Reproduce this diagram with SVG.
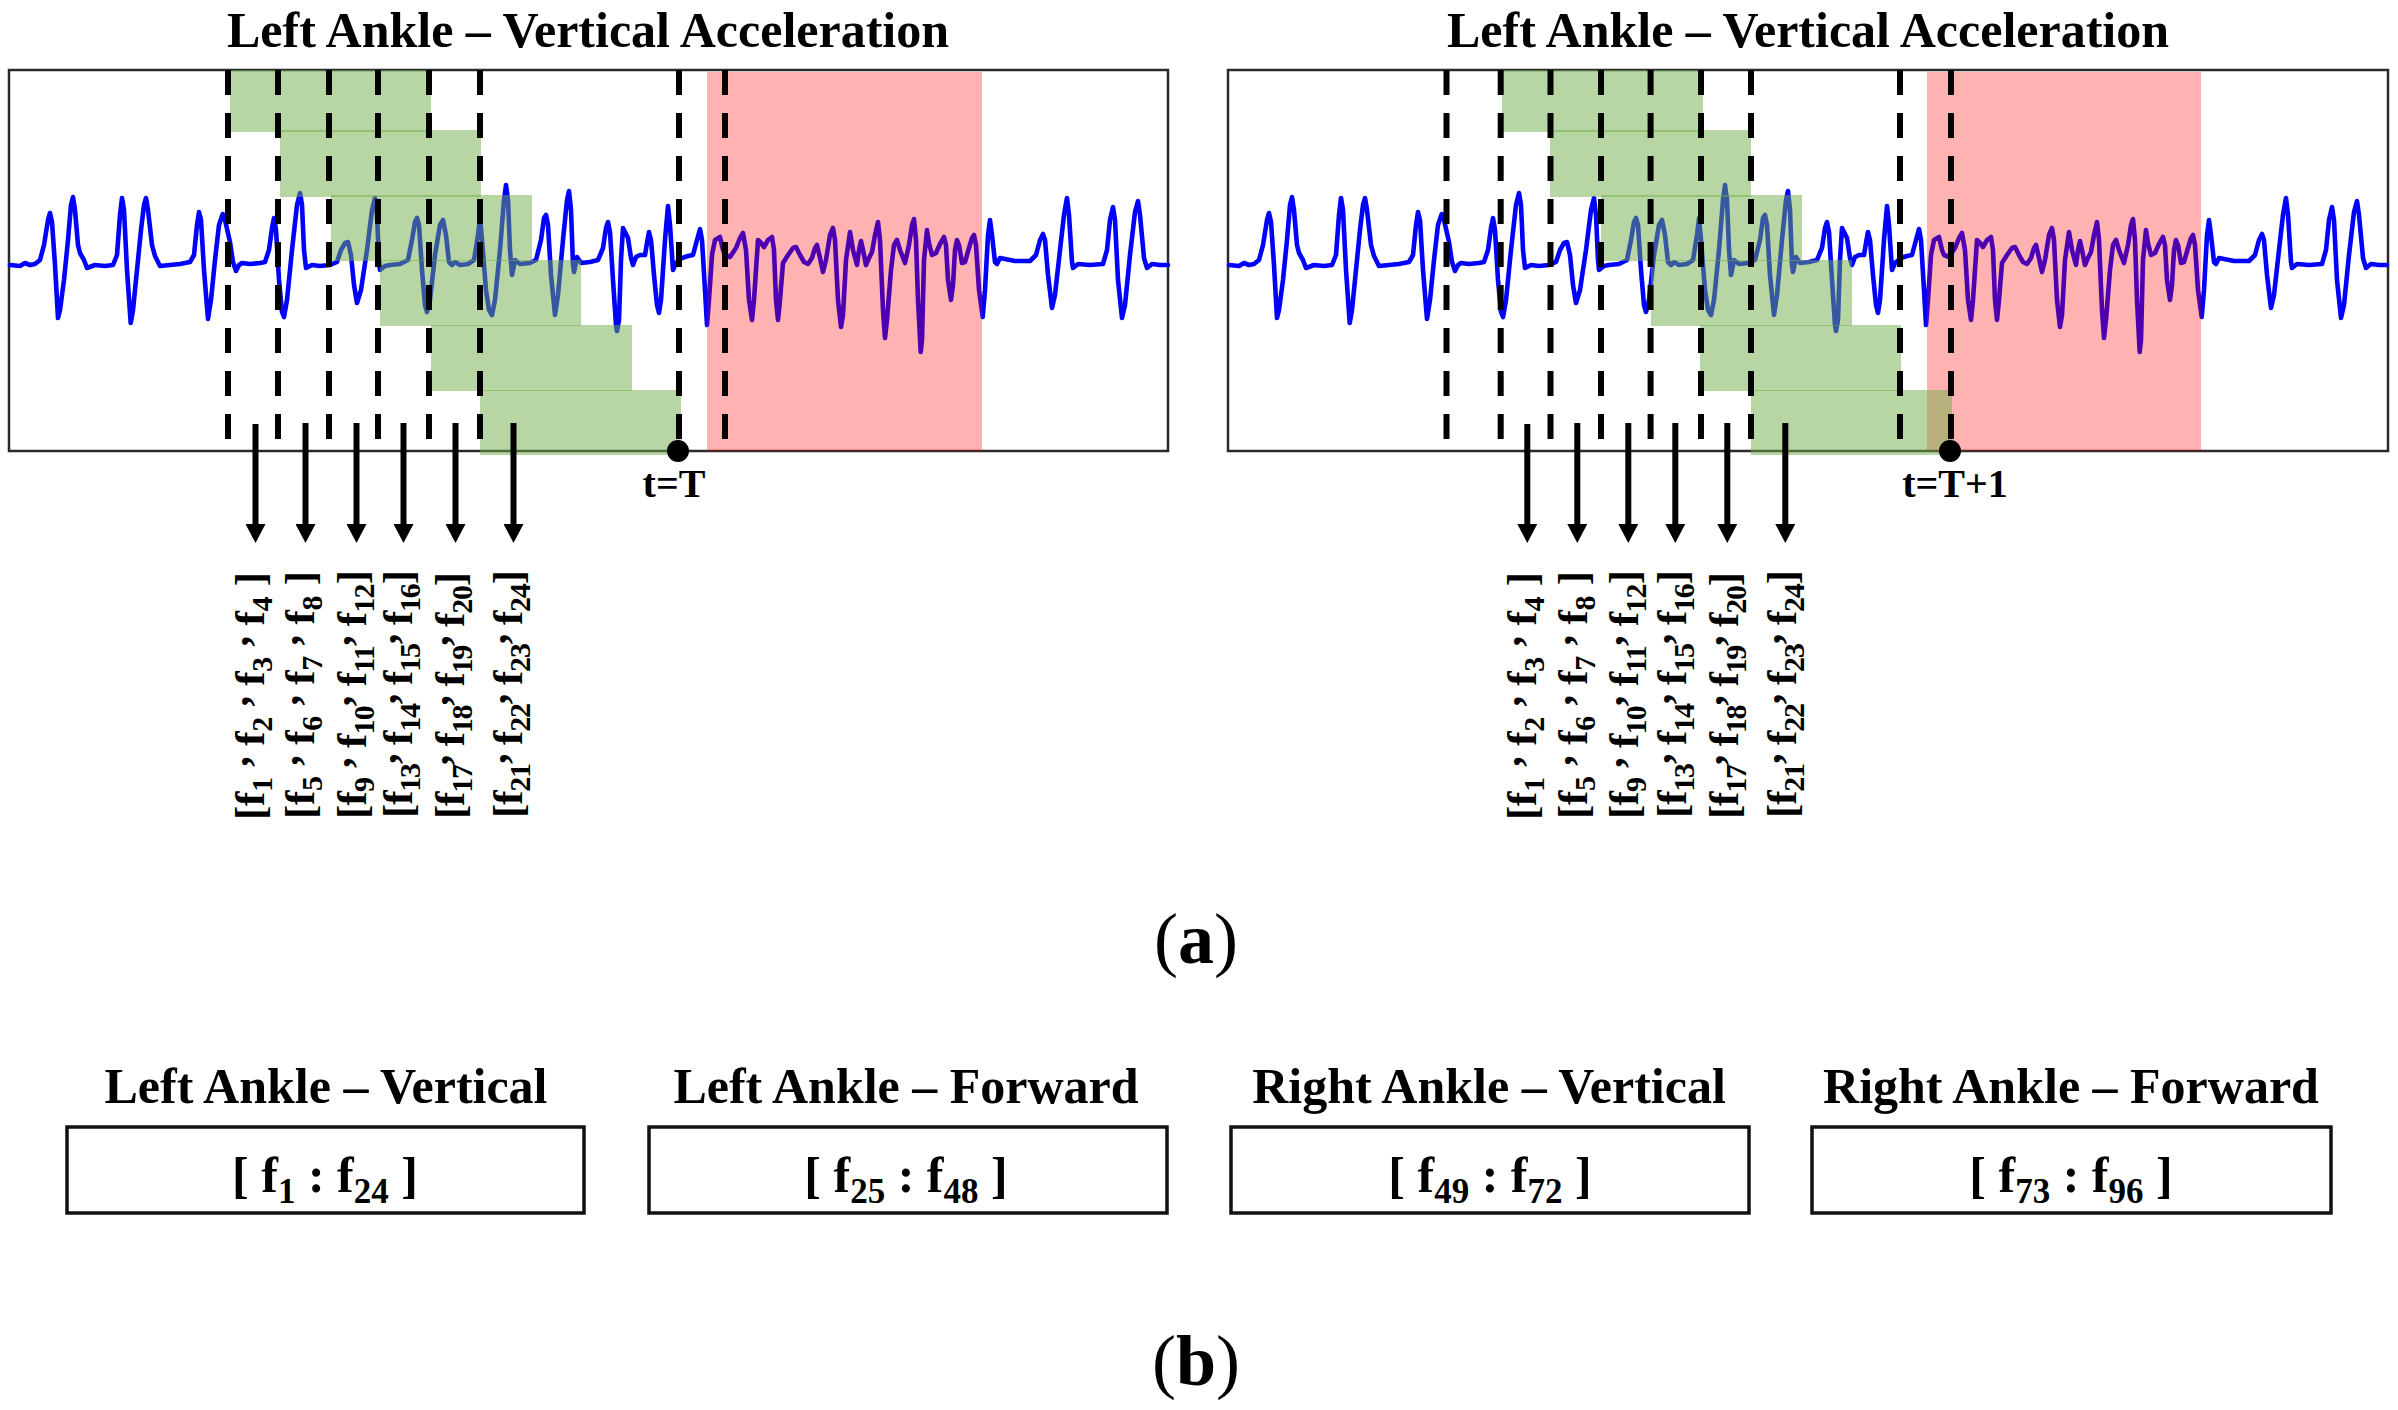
<svg xmlns="http://www.w3.org/2000/svg" xmlns:xlink="http://www.w3.org/1999/xlink" width="2398" height="1410" viewBox="0 0 2398 1410">
<style>
.t{font-family:"Liberation Serif","Times New Roman",serif;font-weight:bold;fill:#000}
.ttl{font-size:50px;text-anchor:middle}
.box{fill:#fff;stroke:#2b2b2b;stroke-width:2.5}
.sig{fill:none;stroke:#0000ff;stroke-width:4.6;stroke-linejoin:round;stroke-linecap:round}
.gr{fill:#70ad47;fill-opacity:0.5}
.rd{fill:#ff0000;fill-opacity:0.3}
.dash{stroke:#000;stroke-width:6;stroke-dasharray:25 18}
.arr{stroke:#000;stroke-width:6;marker-end:url(#ah)}
.fb{fill:#fff;stroke:#111;stroke-width:3.5}
.fl{font-size:43px}
.sb{font-size:30px;baseline-shift:-8px}
.cm{baseline-shift:16px}
.cs{font-size:35px;baseline-shift:-11px}
.tl{font-size:40px;text-anchor:middle}
.lab{font-size:72px;text-anchor:middle}
</style>
<defs>
<marker id="ah" markerUnits="userSpaceOnUse" markerWidth="19" markerHeight="20" refX="0" refY="10" orient="auto" viewBox="0 0 19 20">
<path d="M0,0 L19,10 L0,20 z" fill="#000"/>
</marker>
<path id="sig" class="sig" d="M10,265 L20,266 25,263 30,265 35,264 40,260 44,245 48,220 50,213 52,222 55,265 58,318 60,310 64,280 68,240 71,205 73,197 75,210 78,245 80,253 84,260 87,268 95,265 105,266 113,265 117,255 120,215 122,198 124,210 127,270 130.7,323 133,310 137,270 141,230 144,205 146,198 148,210 152,245 155,256 160,266 170,265 180,264 190,262 194,255 197,225 199,212 201,220 204,270 208,319 211,300 215,260 219,225 222.7,214 225,220 230,242 233,262 236,271 239,265 242,263 250,264 260,263 265,262 269,250 272,228 274,218 276,230 279,280 282,312 284,317 287,300 292,250 297,205 300,193 302,205 304,250 306,268 312,265 320,266 330,265 337,262 341,250 345,243 348,242 351,255 354,285 357,303 361,290 367,250 372,210 375,198 377,215 379,260 380,270 385,266 390,265 400,264 408,260 412,240 415,222 417,218 419,225 422,270 425,305 427,312 430,300 435,255 440,225 443,220 446,235 449,262 452,265 455,262 460,265 468,264 474,260 478,235 480,218 482,240 486,290 489,310 492,315 495,300 500,250 504,200 506,185 508,200 510,250 512,275 515,260 520,264 530,263 536,260 541,240 544,218 546,215 548,225 551,275 555,315 558,295 563,240 567,200 569,191 571,210 573,265 574,272 577,257 581,263 590,262 598,260 603,248 606,228 608,222 610,232 613,280 616,325 617,331 619,320 621,260 623,228 625,232 628,238 631,258 633,265 636,257 640,255 645,255 647,243 649,232 651,240 654,275 657,305 659,313 661,300 665,240 668,206 670,225 673,270 676,263 682,258 688,256 693,255 697,240 700,229 702,240 705,290 707,325 709,300 712,255 715,240 720,237 723,250 725,255 730,257 736,248 740,238 743,233 746,250 749,300 752,320 754,300 757,255 758,240 761,243 764,247 768,240 772,237 774,250 776,300 778,320 780,300 783,263 788,255 793,248 796,247 800,255 804,262 808,264 812,258 815,248 817,245 820,258 823,272 826,260 830,235 833,228 835,240 838,300 841,327 843,315 846,260 850,232 853,250 857,265 859,250 861,241 863,250 866,265 869,258 872,252 875,235 878,222 880,240 883,310 885,338 887,320 891,270 894,245 897,240 900,250 905,263 909,245 912,225 914,219 916,240 918,300 920.7,352 922,340 924,260 927,230 929,243 932,255 936,253 940,244 944,237 946,245 948,280 951,300 953,285 955,250 957,240 959,245 962,263 965,262 969,248 972,238 974,235 976,245 979,290 982.7,317 985,290 988,235 990,220 992,235 995,262 997,264 1000,258 1005,259 1015,261 1025,261 1030,261 1036,255 1040,240 1043,234 1045,240 1048,275 1052,308 1055,295 1060,250 1064,215 1067,198 1069,215 1072,262 1073,268 1078,264 1090,265 1103,264 1107,250 1110,220 1113,207 1115,220 1118,280 1122,318 1125,305 1130,255 1135,212 1138,201 1140,215 1144,258 1147,268 1152,264 1160,265 1168,265"/>
</defs>
<rect width="2398" height="1410" fill="#fff"/>

<g id="panel-left">
<text class="t ttl" x="588" y="47">Left Ankle – Vertical Acceleration</text>
<rect class="box" x="9" y="70" width="1159" height="381"/>
<use xlink:href="#sig" href="#sig"/>
<rect class="rd" x="707" y="72" width="275" height="379"/>
<rect class="gr" x="230" y="70" width="201" height="62"/>
<rect class="gr" x="280" y="130" width="201" height="67"/>
<rect class="gr" x="331" y="195" width="201" height="66"/>
<rect class="gr" x="380" y="260" width="201" height="66"/>
<rect class="gr" x="431" y="325" width="201" height="66"/>
<rect class="gr" x="480" y="390" width="201" height="65"/>
<g class="dash">
<line x1="228" y1="70" x2="228" y2="440"/>
<line x1="278" y1="70" x2="278" y2="440"/>
<line x1="329" y1="70" x2="329" y2="440"/>
<line x1="378" y1="70" x2="378" y2="440"/>
<line x1="429" y1="70" x2="429" y2="440"/>
<line x1="480" y1="70" x2="480" y2="440"/>
<line x1="679" y1="70" x2="679" y2="440"/>
<line x1="725" y1="70" x2="725" y2="440"/>
</g>
<circle cx="678" cy="451" r="11" fill="#000"/>
<text class="t tl" x="674" y="497">t=T</text>
</g>

<g id="panel-right">
<text class="t ttl" x="1808" y="47">Left Ankle – Vertical Acceleration</text>
<rect class="box" x="1228" y="70" width="1160" height="381"/>
<use xlink:href="#sig" href="#sig" transform="translate(1219,0)"/>
<rect class="rd" x="1927" y="72" width="274" height="379"/>
<rect class="gr" x="1502" y="70" width="201" height="62"/>
<rect class="gr" x="1550" y="130" width="201" height="67"/>
<rect class="gr" x="1601" y="195" width="201" height="66"/>
<rect class="gr" x="1651" y="260" width="201" height="66"/>
<rect class="gr" x="1700" y="325" width="201" height="66"/>
<rect class="gr" x="1751" y="390" width="201" height="65"/>
<g class="dash">
<line x1="1446.5" y1="70" x2="1446.5" y2="440"/>
<line x1="1500.7" y1="70" x2="1500.7" y2="440"/>
<line x1="1550.5" y1="70" x2="1550.5" y2="440"/>
<line x1="1601" y1="70" x2="1601" y2="440"/>
<line x1="1650.6" y1="70" x2="1650.6" y2="440"/>
<line x1="1701" y1="70" x2="1701" y2="440"/>
<line x1="1751" y1="70" x2="1751" y2="440"/>
<line x1="1900" y1="70" x2="1900" y2="440"/>
<line x1="1951" y1="70" x2="1951" y2="440"/>
</g>
<circle cx="1950" cy="451" r="11" fill="#000"/>
<text class="t tl" x="1955" y="497">t=T+1</text>
</g>

<g id="connectors">
<line class="arr" x1="255.5" y1="424" x2="255.5" y2="524"/>
<line class="arr" x1="305.5" y1="423" x2="305.5" y2="524"/>
<line class="arr" x1="356.5" y1="423" x2="356.5" y2="524"/>
<line class="arr" x1="403.5" y1="423" x2="403.5" y2="524"/>
<line class="arr" x1="455.5" y1="423" x2="455.5" y2="524"/>
<line class="arr" x1="513.5" y1="423" x2="513.5" y2="524"/>
<line class="arr" x1="1527.3" y1="424" x2="1527.3" y2="524"/>
<line class="arr" x1="1577.3" y1="423" x2="1577.3" y2="524"/>
<line class="arr" x1="1628.3" y1="423" x2="1628.3" y2="524"/>
<line class="arr" x1="1675.3" y1="423" x2="1675.3" y2="524"/>
<line class="arr" x1="1727.3" y1="423" x2="1727.3" y2="524"/>
<line class="arr" x1="1785.3" y1="423" x2="1785.3" y2="524"/>
</g>

<g id="features-left">
<text class="t fl" transform="translate(264,820) rotate(-90)" textLength="248" lengthAdjust="spacing">[f<tspan class="sb">1</tspan> <tspan class="cm">,</tspan> f<tspan class="sb">2</tspan> <tspan class="cm">,</tspan> f<tspan class="sb">3</tspan> <tspan class="cm">,</tspan> f<tspan class="sb">4</tspan> ]</text>
<text class="t fl" transform="translate(314,819) rotate(-90)" textLength="248" lengthAdjust="spacing">[f<tspan class="sb">5</tspan> <tspan class="cm">,</tspan> f<tspan class="sb">6</tspan> <tspan class="cm">,</tspan> f<tspan class="sb">7</tspan> <tspan class="cm">,</tspan> f<tspan class="sb">8</tspan> ]</text>
<text class="t fl" transform="translate(366,819) rotate(-90)" textLength="249" lengthAdjust="spacing">[f<tspan class="sb">9</tspan> <tspan class="cm">,</tspan> f<tspan class="sb">10</tspan><tspan class="cm">,</tspan> f<tspan class="sb">11</tspan><tspan class="cm">,</tspan> f<tspan class="sb">12</tspan>]</text>
<text class="t fl" transform="translate(412,818) rotate(-90)" textLength="248" lengthAdjust="spacing">[f<tspan class="sb">13</tspan><tspan class="cm">,</tspan> f<tspan class="sb">14</tspan><tspan class="cm">,</tspan> f<tspan class="sb">15</tspan><tspan class="cm">,</tspan> f<tspan class="sb">16</tspan>]</text>
<text class="t fl" transform="translate(464,819) rotate(-90)" textLength="247" lengthAdjust="spacing">[f<tspan class="sb">17</tspan><tspan class="cm">,</tspan> f<tspan class="sb">18</tspan><tspan class="cm">,</tspan> f<tspan class="sb">19</tspan><tspan class="cm">,</tspan> f<tspan class="sb">20</tspan>]</text>
<text class="t fl" transform="translate(522,818) rotate(-90)" textLength="248" lengthAdjust="spacing">[f<tspan class="sb">21</tspan><tspan class="cm">,</tspan> f<tspan class="sb">22</tspan><tspan class="cm">,</tspan> f<tspan class="sb">23</tspan><tspan class="cm">,</tspan> f<tspan class="sb">24</tspan>]</text>
</g>

<g id="features-right">
<text class="t fl" transform="translate(1536,820) rotate(-90)" textLength="248" lengthAdjust="spacing">[f<tspan class="sb">1</tspan> <tspan class="cm">,</tspan> f<tspan class="sb">2</tspan> <tspan class="cm">,</tspan> f<tspan class="sb">3</tspan> <tspan class="cm">,</tspan> f<tspan class="sb">4</tspan> ]</text>
<text class="t fl" transform="translate(1587,819) rotate(-90)" textLength="248" lengthAdjust="spacing">[f<tspan class="sb">5</tspan> <tspan class="cm">,</tspan> f<tspan class="sb">6</tspan> <tspan class="cm">,</tspan> f<tspan class="sb">7</tspan> <tspan class="cm">,</tspan> f<tspan class="sb">8</tspan> ]</text>
<text class="t fl" transform="translate(1638,819) rotate(-90)" textLength="249" lengthAdjust="spacing">[f<tspan class="sb">9</tspan> <tspan class="cm">,</tspan> f<tspan class="sb">10</tspan><tspan class="cm">,</tspan> f<tspan class="sb">11</tspan><tspan class="cm">,</tspan> f<tspan class="sb">12</tspan>]</text>
<text class="t fl" transform="translate(1685.5,818) rotate(-90)" textLength="248" lengthAdjust="spacing">[f<tspan class="sb">13</tspan><tspan class="cm">,</tspan> f<tspan class="sb">14</tspan><tspan class="cm">,</tspan> f<tspan class="sb">15</tspan><tspan class="cm">,</tspan> f<tspan class="sb">16</tspan>]</text>
<text class="t fl" transform="translate(1738,819) rotate(-90)" textLength="247" lengthAdjust="spacing">[f<tspan class="sb">17</tspan><tspan class="cm">,</tspan> f<tspan class="sb">18</tspan><tspan class="cm">,</tspan> f<tspan class="sb">19</tspan><tspan class="cm">,</tspan> f<tspan class="sb">20</tspan>]</text>
<text class="t fl" transform="translate(1795.5,818) rotate(-90)" textLength="248" lengthAdjust="spacing">[f<tspan class="sb">21</tspan><tspan class="cm">,</tspan> f<tspan class="sb">22</tspan><tspan class="cm">,</tspan> f<tspan class="sb">23</tspan><tspan class="cm">,</tspan> f<tspan class="sb">24</tspan>]</text>
</g>

<text id="label-a" class="t lab" x="1196" y="963"><tspan font-weight="normal">(</tspan>a<tspan font-weight="normal">)</tspan></text>

<g id="box-lav">
<text class="t ttl" x="326" y="1103">Left Ankle – Vertical</text>
<rect class="fb" x="67" y="1127" width="517" height="86"/>
<text class="t ttl" x="325" y="1192">[ f<tspan class="cs">1</tspan> : f<tspan class="cs">24</tspan> ]</text>
</g>
<g id="box-laf">
<text class="t ttl" x="906" y="1103">Left Ankle – Forward</text>
<rect class="fb" x="649" y="1127" width="518" height="86"/>
<text class="t ttl" x="906" y="1192">[ f<tspan class="cs">25</tspan> : f<tspan class="cs">48</tspan> ]</text>
</g>
<g id="box-rav">
<text class="t ttl" x="1489" y="1103">Right Ankle – Vertical</text>
<rect class="fb" x="1231" y="1127" width="518" height="86"/>
<text class="t ttl" x="1490" y="1192">[ f<tspan class="cs">49</tspan> : f<tspan class="cs">72</tspan> ]</text>
</g>
<g id="box-raf">
<text class="t ttl" x="2071" y="1103">Right Ankle – Forward</text>
<rect class="fb" x="1812" y="1127" width="519" height="86"/>
<text class="t ttl" x="2071" y="1192">[ f<tspan class="cs">73</tspan> : f<tspan class="cs">96</tspan> ]</text>
</g>

<text id="label-b" class="t lab" x="1196" y="1385"><tspan font-weight="normal">(</tspan>b<tspan font-weight="normal">)</tspan></text>
</svg>
